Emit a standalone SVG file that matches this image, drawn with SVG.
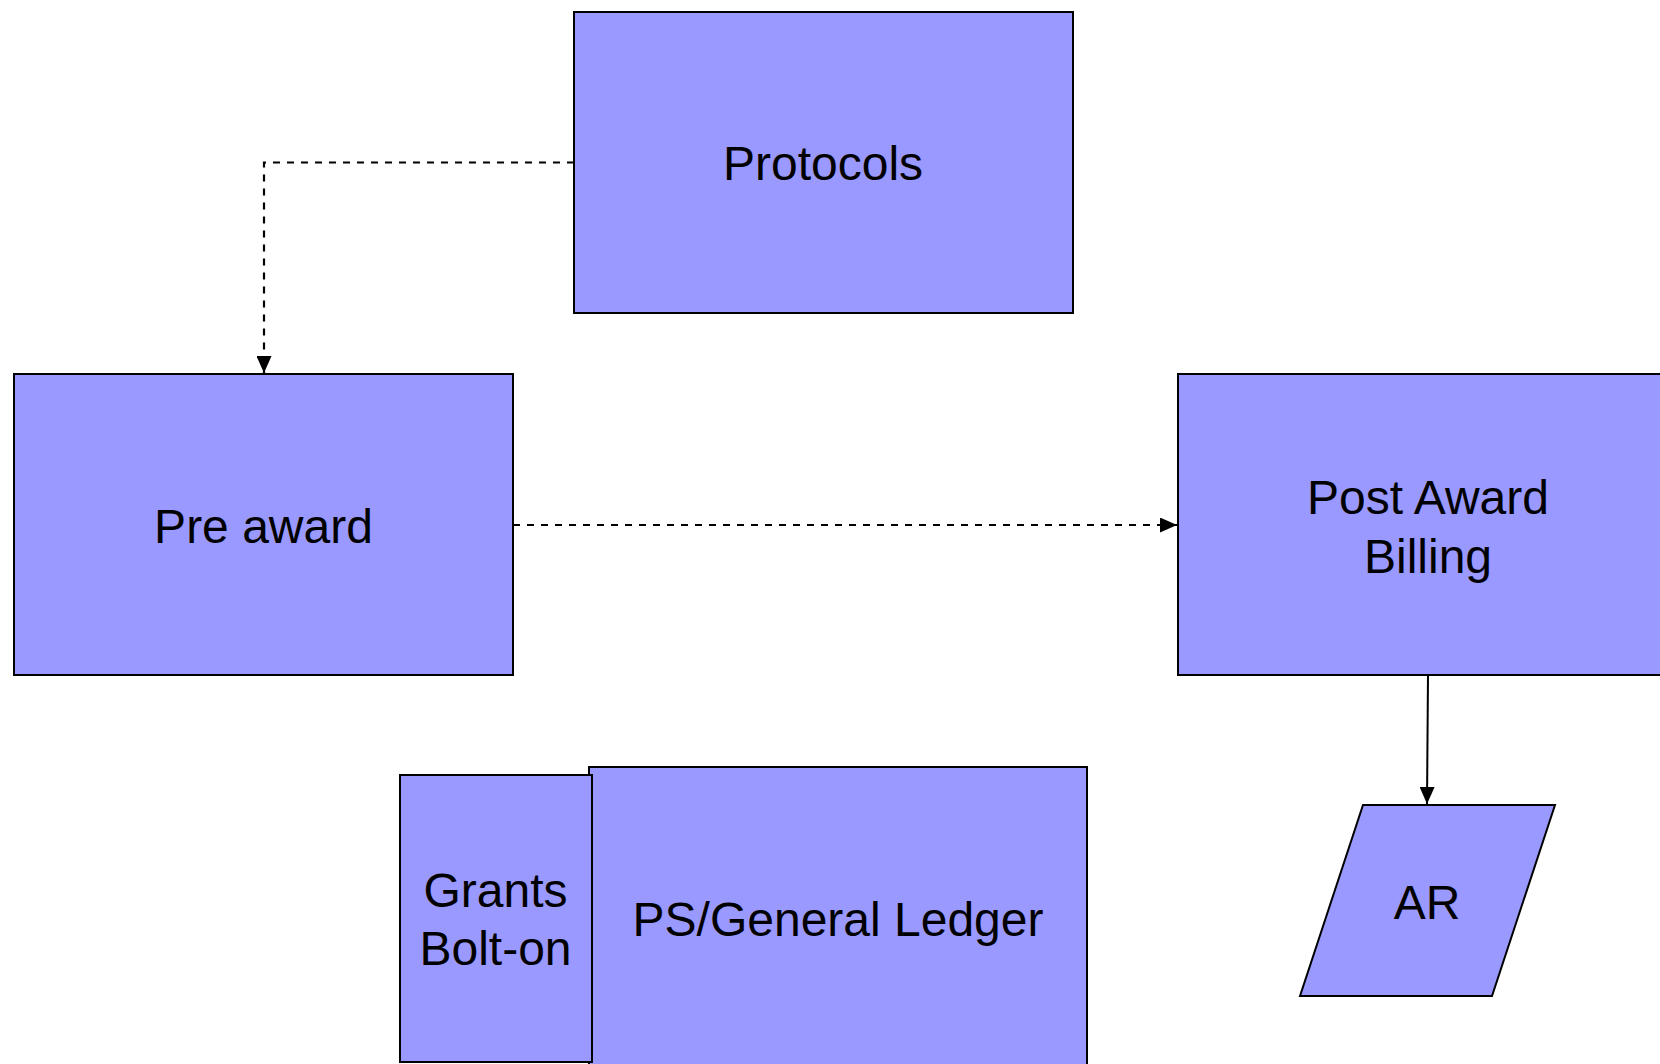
<svg xmlns="http://www.w3.org/2000/svg" width="1660" height="1064" viewBox="0 0 1660 1064">
<style>
.box{fill:#9999FF;stroke:#000;stroke-width:2}
.lbl{font-family:"Liberation Sans",Arial,sans-serif;font-size:48px;fill:#000;text-anchor:middle}
.dash{fill:none;stroke:#000;stroke-width:2.2;stroke-dasharray:7,7}
.solid{fill:none;stroke:#000;stroke-width:2}
</style>
<defs>
<marker id="arr" markerUnits="userSpaceOnUse" markerWidth="17" markerHeight="15" refX="17" refY="7.5" orient="auto">
<path d="M0,0 L17,7.5 L0,15 z" fill="#000"/>
</marker>
</defs>
<rect width="1660" height="1064" fill="#fff"/>
<g id="connectors">
<path class="dash" d="M574,162.5 H264 V373" marker-end="url(#arr)"/>
<path class="dash" d="M513,525 H1177" marker-end="url(#arr)"/>
<path class="solid" d="M1428,675 L1427,804" marker-end="url(#arr)"/>
</g>
<g id="protocols">
<rect class="box" x="574" y="12" width="499" height="301"/>
<text class="lbl" x="823" y="180">Protocols</text>
</g>
<g id="preaward">
<rect class="box" x="14" y="374" width="499" height="301"/>
<text class="lbl" x="263.5" y="543">Pre award</text>
</g>
<g id="postaward">
<rect class="box" x="1178" y="374" width="520" height="301"/>
<text class="lbl" x="1428" y="514">Post Award</text>
<text class="lbl" x="1428" y="573">Billing</text>
</g>
<g id="ar">
<polygon class="box" points="1363,805 1555,805 1492,996 1300,996"/>
<text class="lbl" x="1427" y="919">AR</text>
</g>
<g id="psgl">
<rect class="box" x="589" y="767" width="498" height="320"/>
<text class="lbl" x="838" y="936">PS/General Ledger</text>
</g>
<g id="grants">
<rect class="box" x="400" y="775" width="192" height="287"/>
<text class="lbl" x="495.5" y="907">Grants</text>
<text class="lbl" x="495.5" y="965">Bolt-on</text>
</g>
</svg>
